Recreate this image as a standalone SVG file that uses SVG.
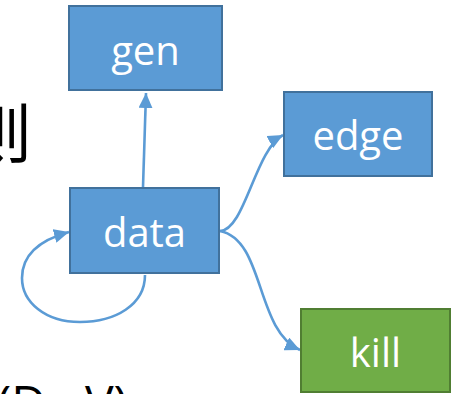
<svg xmlns="http://www.w3.org/2000/svg" width="454" height="394" viewBox="0 0 454 394">
  <style>
    .blue { fill: #5B9BD5; stroke: #41719C; stroke-width: 2; }
    .green { fill: #70AD47; stroke: #507E32; stroke-width: 2; }
    .label { font-family: "Open Sans", "Noto Sans", sans-serif; font-size: 40px; fill: #FFFFFF; text-anchor: middle; }
    .conn { fill: none; stroke: #5B9BD5; stroke-width: 2.6; marker-end: url(#arrow); }
    .bg { font-family: "Open Sans", "Noto Sans", sans-serif; fill: #000000; }
  </style>
  <defs>
    <marker id="arrow" markerUnits="userSpaceOnUse" markerWidth="16" markerHeight="14" refX="15" refY="7" orient="auto">
      <path d="M0,0 L15,7 L0,14 z" fill="#5B9BD5"/>
    </marker>
  </defs>
  <rect width="454" height="394" fill="#FFFFFF"/>
  <text class="bg" x="-32" y="157" font-size="64" style="font-family: 'Noto Sans CJK SC', sans-serif;">则</text>
  <text class="bg" x="-3" y="420" font-size="48" word-spacing="14">(D, V)</text>
  <g id="connectors">
    <path class="conn" d="M143,187 L146,93"/>
    <path class="conn" d="M220,231 C245,230 255,150 283,135"/>
    <path class="conn" d="M220,231 C265,240 255,330 300,350"/>
    <path class="conn" d="M145,275 C145,305 115,322 80,322 C45,322 22,302 22,278 C22,255 40,240 69,232"/>
  </g>
  <g id="gen">
    <rect class="blue" x="69" y="6" width="153" height="84"/>
    <text class="label" x="145.5" y="65">gen</text>
  </g>
  <g id="data">
    <rect class="blue" x="70" y="188" width="149" height="85"/>
    <text class="label" x="144.5" y="247">data</text>
  </g>
  <g id="edge">
    <rect class="blue" x="284" y="92" width="148" height="84"/>
    <text class="label" x="358" y="150">edge</text>
  </g>
  <g id="kill">
    <rect class="green" x="301" y="309" width="149" height="83"/>
    <text class="label" x="375.5" y="367">kill</text>
  </g>
</svg>
